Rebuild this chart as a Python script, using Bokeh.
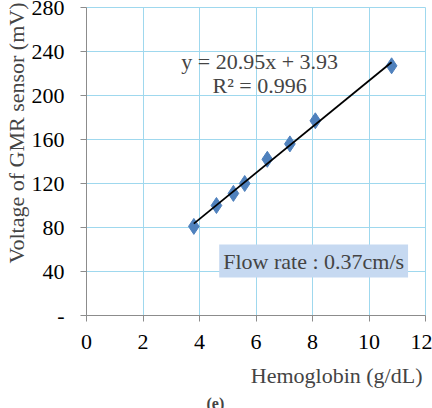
from bokeh.plotting import figure
from bokeh.models import Range1d, FixedTicker, Label, Title
from bokeh.embed import file_html
from bokeh.resources import INLINE

hemoglobin = [3.8, 4.6, 5.2, 5.6, 6.4, 7.2, 8.1, 10.8]
voltage = [81, 100, 111, 120, 142, 156, 177, 227]
slope_val = 20.95
intercept_val = 3.93
x_ticks = [0, 2, 4, 6, 8, 10, 12]
y_ticks = [0, 40, 80, 120, 160, 200, 240, 280]

FONT = "Liberation Serif"
GRID = "#9fd8ee"

p = figure(width=432, height=408, output_backend="svg", toolbar_location=None,
           x_range=Range1d(0, 12), y_range=Range1d(0, 280),
           min_border_left=86, min_border_right=7, min_border_top=7, min_border_bottom=93)
p.outline_line_color = GRID
p.outline_line_width = 1
p.background_fill_color = "white"
p.border_fill_color = "white"

for ax in (p.xaxis, p.yaxis):
    ax.axis_line_color = "#8c8c8c"
    ax.major_tick_line_color = "#8c8c8c"
    ax.major_tick_out = 6
    ax.major_tick_in = 0
    ax.minor_tick_line_color = None
    ax.major_label_text_font = FONT
    ax.major_label_text_font_size = "22px"
    ax.major_label_text_color = "black"

p.xaxis.ticker = FixedTicker(ticks=x_ticks)
p.yaxis.ticker = FixedTicker(ticks=y_ticks)
p.yaxis.major_label_overrides = {0: "-"}
p.xaxis.major_label_standoff = 13
p.yaxis.major_label_standoff = 16

p.xgrid.ticker = FixedTicker(ticks=x_ticks)
p.ygrid.ticker = FixedTicker(ticks=y_ticks)
p.grid.grid_line_color = GRID
p.grid.grid_line_width = 1

p.scatter(hemoglobin, voltage, marker="diamond", size=16,
          fill_color="#4f81bd", line_color="#4f81bd")

# linear trend line over the data range
xs = [min(hemoglobin), max(hemoglobin)]
ys = [slope_val * x + intercept_val for x in xs]
p.line(xs, ys, line_color="black", line_width=1.8)

p.add_layout(Label(x=6.13, y=231, text="y = 20.95x + 3.93", text_font=FONT,
                   text_font_size="22px", text_align="center", text_baseline="middle"))
p.add_layout(Label(x=6.13, y=209, text="R² = 0.996", text_font=FONT,
                   text_font_size="22px", text_align="center", text_baseline="middle"))

p.add_layout(Label(x=8.04, y=49.5, text="Flow rate : 0.37cm/s", text_font=FONT,
                   text_font_size="22px", text_align="center", text_baseline="middle",
                   background_fill_color="#c6d9f1", padding=4))

p.add_layout(Title(text="Hemoglobin (g/dL)", align="right", offset=3, standoff=18,
                   text_font=FONT, text_font_size="22px", text_font_style="normal"), "below")
p.add_layout(Title(text="(e)", align="left", offset=120, standoff=-8,
                   text_font=FONT, text_font_size="16px", text_font_style="bold"), "below")
p.add_layout(Title(text="Voltage of GMR sensor (mV)", align="right", offset=-5, standoff=0,
                   text_font=FONT, text_font_size="22px", text_font_style="normal"), "left")

open("out.html", "w").write(file_html(p, INLINE))
